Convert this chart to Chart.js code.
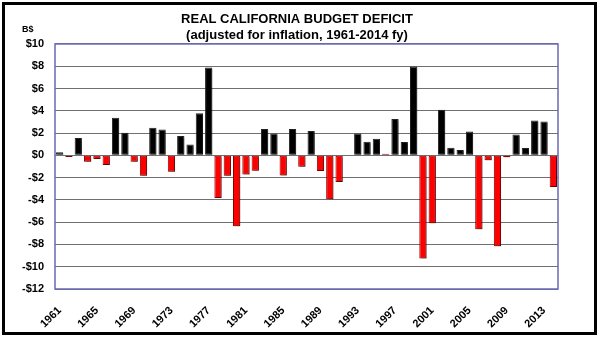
<!DOCTYPE html>
<html>
<head>
<meta charset="utf-8">
<script src="https://cdn.jsdelivr.net/npm/chart.js@4"></script>
<style>
html,body{margin:0;padding:0;background:#fff;}
#wrap{width:600px;height:338px;position:relative;}
</style>
</head>
<body>
<div id="wrap"><canvas id="c" width="600" height="338"></canvas></div>
<script>
// Fiscal years 1961..2014
const years = [1961,1962,1963,1964,1965,1966,1967,1968,1969,1970,
  1971,1972,1973,1974,1975,1976,1977,1978,1979,1980,
  1981,1982,1983,1984,1985,1986,1987,1988,1989,1990,
  1991,1992,1993,1994,1995,1996,1997,1998,1999,2000,
  2001,2002,2003,2004,2005,2006,2007,2008,2009,2010,
  2011,2012,2013,2014];
// Real budget balance, billions of dollars (surplus +, deficit -)
const balance = [0.27,-0.15,1.55,-0.57,-0.33,-0.87,3.37,2.03,-0.57,-1.83,
  2.48,2.33,-1.47,1.73,0.98,3.79,7.89,-3.82,-1.83,-6.37,
  -1.71,-1.38,2.36,1.97,-1.80,2.36,-1.02,2.18,-1.41,-3.95,
  -2.39,0.05,1.97,1.22,1.49,0.15,3.26,1.19,7.98,-9.27,
  -6.10,4.09,0.68,0.47,2.15,-6.64,-0.45,-8.16,-0.18,1.88,
  0.65,3.14,3.05,-2.84];
// Years drawn in red even though marginally positive
const redYears = [1996];
const labelYears = [1961,1965,1969,1973,1977,1981,1985,1989,1993,1997,2001,2005,2009,2013];
const yTicks = [10,8,6,4,2,0,-2,-4,-6,-8,-10,-12];

const isRed = (i) => balance[i] < 0 || redYears.includes(years[i]);

const framePlugin = {
  id: 'frame',
  beforeDatasetsDraw(chart) {
    const ctx = chart.ctx;
    ctx.save();
    ctx.shadowColor = 'rgba(0,0,0,0.35)';
    ctx.shadowOffsetX = 1.5;
    ctx.shadowOffsetY = 1.5;
    ctx.shadowBlur = 0;
  },
  afterDatasetsDraw(chart) {
    chart.ctx.restore();
  },
  afterDraw(chart) {
    const ctx = chart.ctx, a = chart.chartArea;
    ctx.save();
    ctx.strokeStyle = '#6b68b8';
    ctx.lineWidth = 1.5;
    ctx.strokeRect(a.left, a.top, a.right - a.left, a.bottom - a.top);
    ctx.strokeStyle = '#000';
    ctx.lineWidth = 3;
    ctx.strokeRect(3.5, 3.5, 592, 330);
    ctx.fillStyle = '#000';
    ctx.font = 'bold 9px "Liberation Sans", Arial, sans-serif';
    ctx.textAlign = 'left';
    ctx.textBaseline = 'middle';
    ctx.fillText('B$', 22, 30);
    ctx.restore();
  }
};

new Chart(document.getElementById('c'), {
  type: 'bar',
  data: {
    labels: years.map(String),
    datasets: [{
      data: balance,
      backgroundColor: balance.map((v, i) => isRed(i) ? '#ff0000' : '#000000'),
      borderColor: balance.map((v, i) => isRed(i) ? '#8a0000' : '#222222'),
      borderWidth: 1,
      borderSkipped: false,
      barPercentage: 0.78,
      categoryPercentage: 1.0
    }]
  },
  options: {
    responsive: false,
    animation: false,
    devicePixelRatio: 1,
    layout: { padding: { left: 0, right: 6, top: 0, bottom: 0 } },
    plugins: {
      legend: { display: false },
      tooltip: { enabled: false },
      title: {
        display: true,
        text: ['REAL CALIFORNIA BUDGET DEFICIT', '(adjusted for inflation, 1961-2014 fy)'],
        color: '#000',
        font: { family: '"Liberation Sans", Arial, sans-serif', size: 13, weight: 'bold', lineHeight: 1.23 },
        padding: { top: 11, bottom: 1 }
      }
    },
    scales: {
      y: {
        min: -12, max: 10,
        afterFit(s) { s.width = 55; },
        afterBuildTicks(s) { s.ticks = yTicks.map(v => ({ value: v })); },
        ticks: {
          color: '#000',
          padding: 11,
          font: { family: '"Liberation Sans", Arial, sans-serif', size: 11, weight: 'bold' },
          callback: (v) => (v < 0 ? '-$' : '$') + Math.abs(v)
        },
        grid: { color: '#707070', lineWidth: 1, drawTicks: false },
        border: { display: false }
      },
      yRight: {
        position: 'right',
        min: -12, max: 10,
        afterFit(s) { s.width = 36; },
        ticks: { display: false },
        grid: { display: false, drawOnChartArea: false },
        border: { display: false }
      },
      x: {
        afterFit(s) { s.height = 49; },
        ticks: {
          color: '#000',
          autoSkip: false,
          maxRotation: 45,
          minRotation: 45,
          padding: 7,
          font: { family: '"Liberation Sans", Arial, sans-serif', size: 11, weight: 'bold' },
          callback: function(v, i) { return labelYears.includes(years[i]) ? String(years[i]) : ''; }
        },
        grid: { display: false },
        border: { display: false }
      }
    }
  },
  plugins: [framePlugin]
});
</script>
</body>
</html>
